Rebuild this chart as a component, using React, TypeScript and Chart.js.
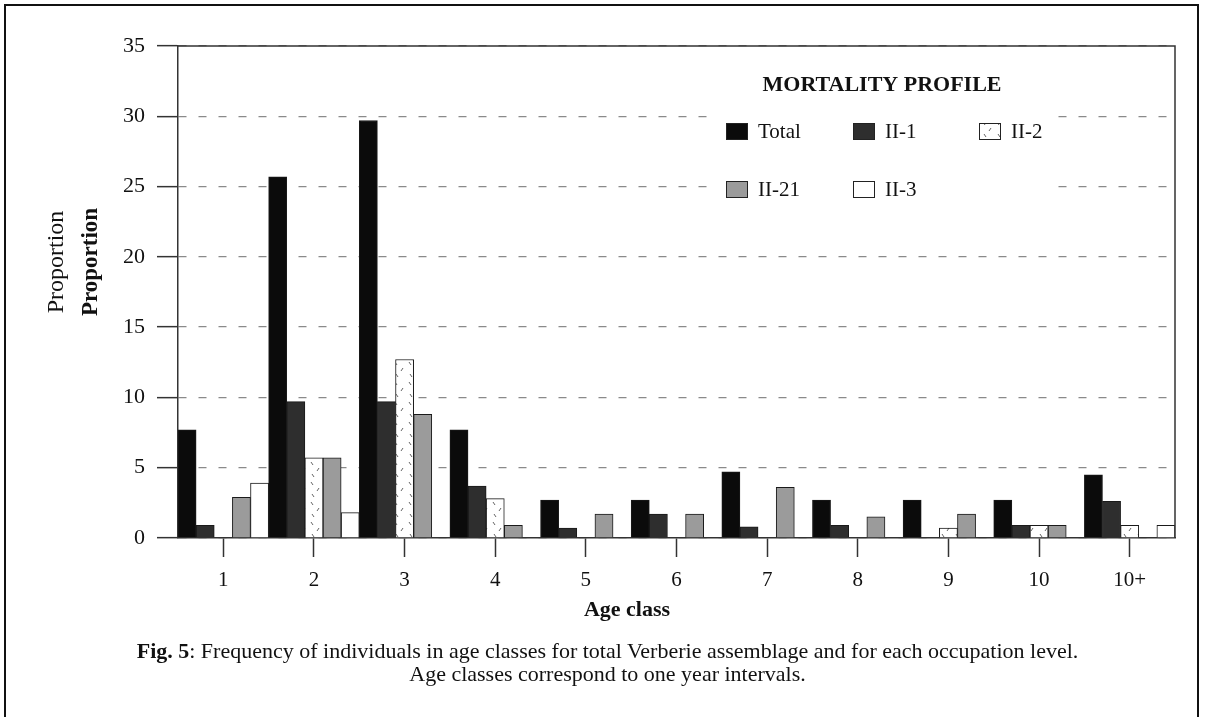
import React, { useEffect, useRef } from "react";
import { Chart, registerables } from "chart.js";

Chart.register(...registerables);

// ---- Data ----
const ageClasses = ["1", "2", "3", "4", "5", "6", "7", "8", "9", "10", "10+"];
const totalValues = [7.7, 25.7, 29.7, 7.7, 2.7, 2.7, 4.7, 2.7, 2.7, 2.7, 4.5];
const levelII1Values = [0.9, 9.7, 9.7, 3.7, 0.7, 1.7, 0.8, 0.9, 0, 0.9, 2.6];
const levelII2Values = [0, 5.7, 12.7, 2.8, 0, 0, 0, 0, 0.7, 0.9, 0.9];
const levelII21Values = [2.9, 5.7, 8.8, 0.9, 1.7, 1.7, 3.6, 1.5, 1.7, 0.9, 0];
const levelII3Values = [3.9, 1.8, 0, 0, 0, 0, 0, 0, 0, 0, 0.9];
const seriesNames = ["Total", "II-1", "II-2", "II-21", "II-3"];
const yTickValues = [0, 5, 10, 15, 20, 25, 30, 35];

const legendTitle = "MORTALITY PROFILE";
const xTitle = "Age class";
const yTitle = "Proportion";
const captionBold = "Fig. 5";
const captionLine1 = ": Frequency of individuals in age classes for total Verberie assemblage and for each occupation level.";
const captionLine2 = "Age classes correspond to one year intervals.";

const SERIF = "'Liberation Serif', 'DejaVu Serif', serif";

export default function App() {
  const canvasRef = useRef<HTMLCanvasElement>(null);

  useEffect(() => {
    const canvas = canvasRef.current;
    if (!canvas) return;

    // speckled pattern for II-2
    const pc = document.createElement("canvas");
    pc.width = 14;
    pc.height = 20;
    const p = pc.getContext("2d")!;
    p.fillStyle = "#ffffff";
    p.fillRect(0, 0, 14, 20);
    p.strokeStyle = "#666";
    p.lineWidth = 1;
    p.beginPath();
    p.moveTo(3, 2);
    p.lineTo(5, 5);
    p.moveTo(11, 8);
    p.lineTo(9, 11);
    p.moveTo(4, 14);
    p.lineTo(6, 17);
    p.stroke();
    const pattern = canvas.getContext("2d")!.createPattern(pc, "repeat")!;

    const fills: any[] = ["#0b0b0b", "#2e2e2e", pattern, "#9b9b9b", "#ffffff"];
    const values = [totalValues, levelII1Values, levelII2Values, levelII21Values, levelII3Values];

    const overlay = {
      id: "overlay",
      afterDraw(chart: any) {
        const { ctx, chartArea: ca } = chart;
        ctx.save();
        // plot frame (top + right)
        ctx.strokeStyle = "#333";
        ctx.lineWidth = 1.5;
        ctx.setLineDash([]);
        ctx.beginPath();
        ctx.moveTo(ca.left, ca.top);
        ctx.lineTo(ca.right, ca.top);
        ctx.lineTo(ca.right, ca.bottom);
        ctx.stroke();

        // legend background
        ctx.fillStyle = "#ffffff";
        ctx.fillRect(708, 62, 350, 150);

        // legend title
        ctx.fillStyle = "#111";
        ctx.font = `bold 22px ${SERIF}`;
        ctx.textAlign = "center";
        ctx.textBaseline = "middle";
        ctx.fillText(legendTitle, 882, 85);

        // legend items
        const pos = [
          [726, 131],
          [853, 131],
          [979, 131],
          [726, 189],
          [853, 189],
        ];
        ctx.font = `21px ${SERIF}`;
        ctx.textAlign = "left";
        seriesNames.forEach((name, i) => {
          const [x, y] = pos[i];
          ctx.fillStyle = fills[i];
          ctx.fillRect(x, y - 8, 21, 16);
          ctx.strokeStyle = "#222";
          ctx.lineWidth = 1;
          ctx.strokeRect(x + 0.5, y - 7.5, 21, 16);
          ctx.fillStyle = "#111";
          ctx.fillText(name, x + 32, y + 1);
        });

        // axis titles
        ctx.font = `bold 22px ${SERIF}`;
        ctx.textAlign = "center";
        ctx.textBaseline = "alphabetic";
        ctx.fillText(xTitle, 627, 616);

        ctx.save();
        ctx.translate(63, 262);
        ctx.rotate(-Math.PI / 2);
        ctx.font = `24px ${SERIF}`;
        ctx.fillText(yTitle, 0, 0);
        ctx.restore();

        ctx.save();
        ctx.translate(97, 262);
        ctx.rotate(-Math.PI / 2);
        ctx.font = `bold 23px ${SERIF}`;
        ctx.fillText(yTitle, 0, 0);
        ctx.restore();

        ctx.restore();
      },
    };

    const chart = new Chart(canvas, {
      type: "bar",
      data: {
        labels: ageClasses,
        datasets: seriesNames.map((name, i) => ({
          label: name,
          data: values[i],
          backgroundColor: fills[i],
          borderColor: "#1a1a1a",
          borderWidth: 1,
          barPercentage: 1,
          categoryPercentage: 1,
        })),
      },
      options: {
        responsive: false,
        animation: false,
        devicePixelRatio: 1,
        layout: { padding: { left: 0, right: 30, top: 46, bottom: 0 } },
        plugins: {
          legend: { display: false },
          tooltip: { enabled: false },
          title: { display: false },
        },
        scales: {
          x: {
            grid: {
              display: true,
              drawOnChartArea: false,
              offset: false,
              drawTicks: true,
              tickLength: 19,
              tickColor: "#333",
              tickWidth: 1.5,
            },
            border: { display: true, color: "#333", width: 1.5 },
            ticks: {
              color: "#111",
              font: { family: SERIF, size: 21 },
              padding: 11,
              maxRotation: 0,
              autoSkip: false,
            },
            afterFit: (s: any) => {
              s.height = 717 - 538;
            },
          },
          y: {
            min: 0,
            max: 35,
            afterBuildTicks: (s: any) => {
              s.ticks = yTickValues.map((v) => ({ value: v }));
            },
            ticks: {
              color: "#111",
              font: { family: SERIF, size: 22 },
              padding: 12,
            },
            grid: {
              color: "#8a8a8a",
              lineWidth: 1.3,
              drawTicks: true,
              tickLength: 21,
              tickColor: "#333",
              tickWidth: 1.5,
              tickBorderDash: [],
            },
            border: { display: true, color: "#333", width: 1.5, dash: [8, 12] },
            afterFit: (s: any) => {
              s.width = 178;
            },
          },
        },
      },
      plugins: [overlay],
    } as any);

    return () => chart.destroy();
  }, []);

  return (
    <div
      style={{
        position: "absolute",
        left: 0,
        top: 0,
        width: 1205,
        height: 717,
        overflow: "hidden",
        background: "#ffffff",
      }}
    >
      <canvas
        ref={canvasRef}
        width={1205}
        height={717}
        style={{ position: "absolute", left: 0, top: 0, width: 1205, height: 717 }}
      />
      <div
        style={{
          position: "absolute",
          left: 4,
          top: 4,
          width: 1195,
          height: 800,
          border: "2px solid #111",
          boxSizing: "border-box",
          pointerEvents: "none",
        }}
      />
      <div
        style={{
          position: "absolute",
          left: 10,
          top: 639,
          width: 1195,
          textAlign: "center",
          fontFamily: SERIF,
          fontSize: 22,
          lineHeight: "23px",
          color: "#111",
        }}
      >
        <div>
          <b>{captionBold}</b>
          {captionLine1}
        </div>
        <div>{captionLine2}</div>
      </div>
    </div>
  );
}
